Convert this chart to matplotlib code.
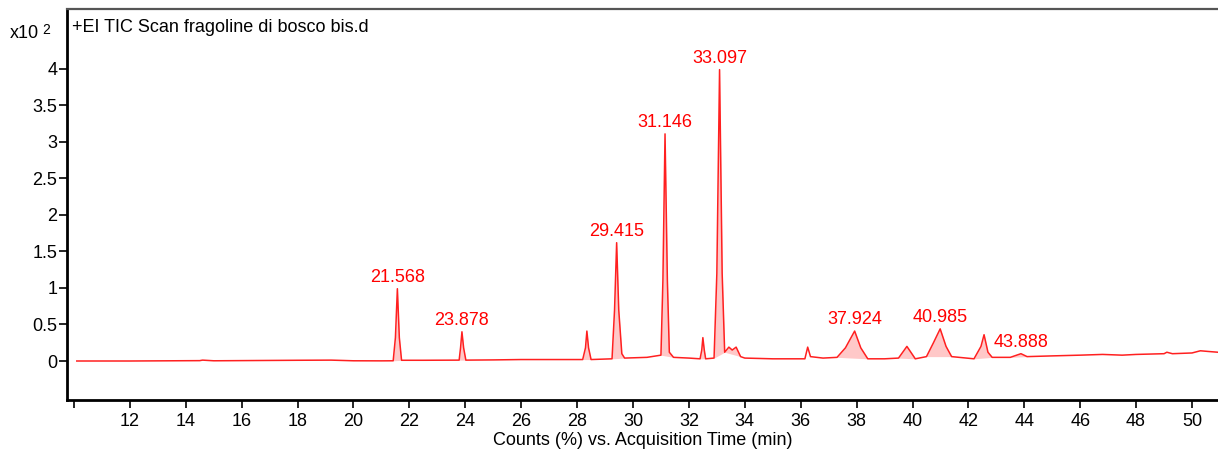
import numpy as np
import matplotlib.pyplot as plt

# retention time (min) and counts (x10^2)
time = [10.1, 12.0, 14.5, 14.6, 15.0, 18.0, 19.2, 20.0, 21.0,
        21.42, 21.50, 21.57, 21.64, 21.72, 22.5,
        23.78, 23.83, 23.88, 23.94, 24.02, 25.0, 26.0, 27.0,
        28.2, 28.30, 28.35, 28.41, 28.50,
        29.25, 29.34, 29.415, 29.49, 29.6, 29.7, 30.5,
        31.0, 31.07, 31.146, 31.23, 31.3, 31.45, 32.0,
        32.40, 32.46, 32.50, 32.55, 32.60, 32.9,
        33.0, 33.097, 33.19, 33.28, 33.43, 33.55, 33.69, 33.85, 34.0, 35.0,
        36.15, 36.25, 36.35, 36.8,
        37.3, 37.6, 37.93, 38.15, 38.4, 39.0,
        39.5, 39.8, 40.1,
        40.5, 40.75, 40.99, 41.2, 41.4,
        42.2, 42.45, 42.56, 42.7, 42.85,
        43.5, 43.88, 44.1, 45.0, 46.0, 46.8, 47.5, 48.0,
        49.0, 49.1, 49.3, 50.0, 50.3, 50.6, 50.93]
counts = [0.00, 0.00, 0.005, 0.012, 0.003, 0.01, 0.012, 0.003, 0.002,
          0.003, 0.32, 0.99, 0.32, 0.01, 0.01,
          0.012, 0.18, 0.40, 0.18, 0.012, 0.015, 0.02, 0.02,
          0.02, 0.18, 0.41, 0.18, 0.02,
          0.03, 0.7, 1.62, 0.7, 0.1, 0.04, 0.05,
          0.08, 1.1, 3.11, 1.1, 0.12, 0.05, 0.04,
          0.03, 0.15, 0.32, 0.15, 0.03, 0.04,
          1.2, 3.99, 1.2, 0.12, 0.19, 0.15, 0.19, 0.06, 0.04, 0.03,
          0.03, 0.19, 0.06, 0.04,
          0.05, 0.18, 0.41, 0.18, 0.03, 0.03,
          0.04, 0.20, 0.03,
          0.06, 0.25, 0.44, 0.2, 0.06,
          0.03, 0.2, 0.36, 0.12, 0.05,
          0.05, 0.10, 0.06, 0.07, 0.08, 0.09, 0.08, 0.09,
          0.10, 0.12, 0.10, 0.11, 0.14, 0.13, 0.12]

# integrated peak windows (start, end)
windows = [(21.42, 21.72), (23.78, 24.02), (28.2, 28.5), (29.25, 29.7),
           (31.0, 31.45), (32.40, 32.60), (32.9, 33.28), (33.28, 33.85),
           (37.3, 38.4), (39.5, 40.1), (40.5, 41.4), (42.2, 42.85),
           (43.5, 44.1)]

# labelled peaks
peak_rt = [21.568, 23.878, 29.415, 31.146, 33.097, 37.924, 40.985, 43.888]
peak_h = [0.99, 0.40, 1.62, 3.11, 3.99, 0.41, 0.44, 0.10]

t = np.array(time)
c = np.array(counts)

plt.rcParams['font.family'] = ['Liberation Sans', 'DejaVu Sans']

fig = plt.figure(figsize=(12.18, 4.54), dpi=100)
ax = fig.add_axes([67/1218, 54/454, 1151/1218, 391/454])

for a, b in windows:
    m = (t >= a) & (t <= b)
    base = np.interp(t[m], [a, b], np.interp([a, b], t, c))
    ax.fill_between(t[m], c[m], base, color='#ffc8c8', lw=0)

ax.plot(t, c, color='#ff2020', lw=1.1)

for rt, h in zip(peak_rt, peak_h):
    ax.annotate(f'{rt:.3f}', (rt, h), xytext=(0, 2), textcoords='offset points',
                ha='center', va='bottom', color='#ff0000', fontsize=13)

ax.set_xlim(9.75, 50.93)
ax.set_ylim(-0.534, 4.82)
ax.set_xticks(np.arange(10, 51, 2))
ax.set_xticklabels([''] + [str(v) for v in range(12, 51, 2)])
ax.set_yticks(np.arange(0, 4.01, 0.5))
ax.set_yticklabels(['0', '0.5', '1', '1.5', '2', '2.5', '3', '3.5', '4'])
ax.tick_params(labelsize=13, width=1.2, colors='black')
ax.tick_params(axis='x', length=6, pad=3)
ax.tick_params(axis='y', length=6, pad=1)

ax.spines['right'].set_visible(False)
ax.spines['left'].set_linewidth(2)
ax.spines['bottom'].set_linewidth(2)
ax.spines['top'].set_linewidth(1.6)
ax.spines['top'].set_color('#555555')

ax.set_xlabel('Counts (%) vs. Acquisition Time (min)', fontsize=13, labelpad=2)
ax.text(0.004, 0.975, '+EI TIC Scan fragoline di bosco bis.d', transform=ax.transAxes,
        ha='left', va='top', fontsize=13)
fig.text(10/1218, 1 - 34/454, 'x10', ha='left', va='center', fontsize=13)
fig.text(42/1218, 1 - 30/454, '2', ha='left', va='center', fontsize=10)

fig.savefig('out.png', dpi=100)
